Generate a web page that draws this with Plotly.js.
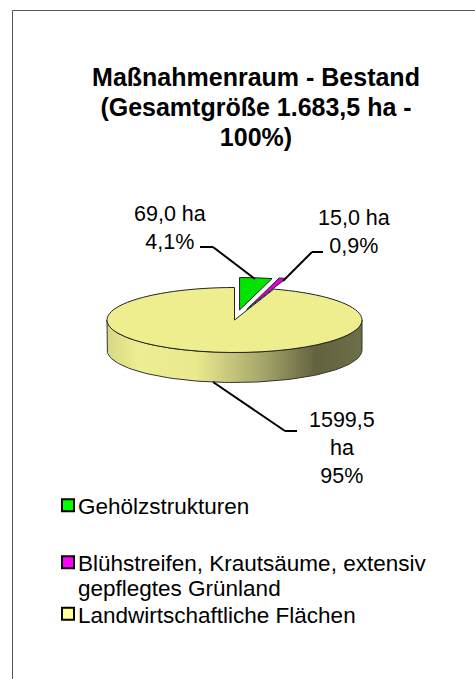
<!DOCTYPE html>
<html>
<head>
<meta charset="utf-8">
<script src="https://cdn.plot.ly/plotly-3.0.1.min.js"></script>
<style>html,body{margin:0;padding:0;background:#fff;}#chart{width:475px;height:679px;}</style>
</head>
<body>
<div id="chart"></div>
<script>
// ---- data ----
var categories = ["Gehölzstrukturen", "Blühstreifen, Krautsäume, extensiv<br>gepflegtes Grünland", "Landwirtschaftliche Flächen"];
var hectares = [69.0, 15.0, 1599.5];
var percents = [4.1, 0.9, 95];
var sliceColors = ["#00E400", "#DD00DD", "#EEEE8E"];
var legendColors = ["#00FF00", "#FF00FF", "#FFFF99"];
var titleText = "<b>Maßnahmenraum - Bestand<br>(Gesamtgröße 1.683,5 ha -<br>100%)</b>";

// ---- geometry (pixels) ----
var W = 475, H = 679;
var cx = 234.5, cy = 320, rx = 127.5, ry = 32.5, depth = 30;
var pulls = [0.31, 0.34, 0];
var maxPull = 0.34;
var k = ry / rx;
function px(x) { return x / W; }
function py(y) { return 1 - y / H; }
var FONT = "Liberation Sans, Arial, Helvetica, sans-serif";

function fmt(v) { return v.toFixed(1).replace('.', ','); }
function pct(v) { return (Math.round(v) === v ? String(v) : fmt(v)) + '%'; }

// side of the 3D pie (extrusion)
var sx = [], sy = [];
var N = 80, i, t;
sx.push(cx - rx); sy.push(cy);
for (i = 0; i <= N; i++) { t = Math.PI * i / N; sx.push(cx - rx * Math.cos(t)); sy.push(cy + depth + ry * Math.sin(t)); }
for (i = N; i >= 0; i--) { t = Math.PI * i / N; sx.push(cx - rx * Math.cos(t)); sy.push(cy + ry * Math.sin(t)); }

var half = rx * (1 + maxPull);
var legendLabels = categories.slice();
legendLabels[0] = categories[0] + '<br> ';
var pieTrace = {
  type: 'pie',
  values: hectares,
  labels: legendLabels,
  sort: false,
  direction: 'clockwise',
  rotation: 0,
  pull: pulls,
  marker: { colors: sliceColors, line: { color: '#222', width: 1 } },
  textinfo: 'none',
  hoverinfo: 'skip',
  domain: { x: [px(cx - half), px(cx + half)], y: [py(cy + half), py(cy - half)] },
  showlegend: true
};
var sideTrace = {
  type: 'scatter', mode: 'lines', x: sx, y: sy, fill: 'toself',
  fillgradient: { type: 'horizontal', colorscale: [[0, '#D8D884'], [0.12, '#EDED91'], [0.35, '#E9E98D'], [0.62, '#A3A36A'], [0.82, '#62623F'], [1, '#6E6E48']] },
  line: { color: '#333', width: 1 }, hoverinfo: 'skip', showlegend: false
};

// labels
var labelPos = [[170, 228], [354, 232], [342, 448]];
var labelText = [
  fmt(hectares[0]) + ' ha<br>' + pct(percents[0]),
  fmt(hectares[1]) + ' ha<br>' + pct(percents[1]),
  fmt(hectares[2]) + '<br>ha<br>' + pct(percents[2])
];
var annotations = labelText.map(function (s, j) {
  return { text: s, x: px(labelPos[j][0]), y: py(labelPos[j][1]), xref: 'paper', yref: 'paper',
    xanchor: 'center', yanchor: 'middle',
    showarrow: false, align: 'center', font: { family: FONT, size: 21.5, color: '#000' } };
});
var leaders = [
  [[200, 247], [213, 247], [255, 279]],
  [[323, 252], [312, 252], [283, 281]],
  [[297, 431], [285, 431], [213, 382]]
];
var shapes = [];
leaders.forEach(function (L) {
  for (var m = 0; m < L.length - 1; m++) {
    shapes.push({ type: 'line', xref: 'paper', yref: 'paper', x0: px(L[m][0]), y0: py(L[m][1]), x1: px(L[m + 1][0]), y1: py(L[m + 1][1]), line: { color: '#000', width: 2 } });
  }
});
shapes.push({ type: 'rect', xref: 'paper', yref: 'paper', x0: px(12.5), y0: -0.1, x1: 1.1, y1: py(10.5), line: { color: '#555', width: 1 }, fillcolor: 'rgba(0,0,0,0)', layer: 'below' });

var layout = {
  width: W, height: H,
  margin: { l: 0, r: 0, t: 0, b: 0 },
  paper_bgcolor: '#fff', plot_bgcolor: 'rgba(0,0,0,0)',
  font: { family: FONT, color: '#000' },
  title: { text: titleText, x: px(256), xanchor: 'center', y: py(86), yanchor: 'top', yref: 'container', font: { family: FONT, size: 25, color: '#000' } },
  xaxis: { range: [0, W], visible: false, fixedrange: true, domain: [0, 1] },
  yaxis: { range: [H, 0], visible: false, fixedrange: true, domain: [0, 1] },
  showlegend: true,
  legend: { x: px(48), y: py(484), xanchor: 'left', yanchor: 'top', valign: 'top', font: { family: FONT, size: 22.5, color: '#000' }, bgcolor: 'rgba(0,0,0,0)', itemclick: false, itemdoubleclick: false },
  annotations: annotations,
  shapes: shapes
};

// legend entry offsets (pixels, relative to first entry)
var legendOffsets = [0, 57, 94];

Plotly.newPlot('chart', [sideTrace, pieTrace], layout, { staticPlot: true }).then(function (gd) {
  // tilt the pie into an ellipse
  gd.querySelectorAll('.pielayer .trace').forEach(function (g) {
    var prev = g.getAttribute('transform') || '';
    g.setAttribute('transform', 'translate(0,' + (cy * (1 - k)) + ') scale(1,' + k + ') ' + prev);
    g.querySelectorAll('path').forEach(function (p) { p.setAttribute('vector-effect', 'non-scaling-stroke'); });
  });
  // title line spacing like the reference (scale Plotly's em offsets)
  gd.querySelectorAll('.g-gtitle text tspan.line').forEach(function (ts) {
    var dy = ts.getAttribute('dy');
    if (dy && /em$/.test(dy)) {
      var v = parseFloat(dy);
      if (v > 0) ts.setAttribute('dy', (v * 1.19 / 1.3) + 'em');
    }
  });
  // tighten legend spacing like the reference
  var items = gd.querySelectorAll('.legend .traces');
  var y0 = null;
  items.forEach(function (it, j) {
    var tr = it.getAttribute('transform') || '';
    var m = /translate\(\s*([-\d.e]+)[ ,]+([-\d.e]+)\s*\)/.exec(tr);
    if (!m) return;
    var x = parseFloat(m[1]), y = parseFloat(m[2]);
    if (y0 === null) y0 = y;
    if (j < legendOffsets.length) it.setAttribute('transform', 'translate(' + x + ',' + (y0 + legendOffsets[j]) + ')');
    it.querySelectorAll('.legendpoints path').forEach(function (p) {
      if (j < legendColors.length) p.style.fill = legendColors[j];
      p.style.stroke = '#000';
      p.style.strokeWidth = '2px';
    });
    var txt = it.querySelector('text.legendtext');
    if (txt) {
      var tx = parseFloat(txt.getAttribute('x') || '0') - 10;
      txt.setAttribute('x', tx);
      txt.querySelectorAll('tspan.line').forEach(function (ts, q) {
        if (ts.getAttribute('x') !== null) ts.setAttribute('x', tx);
        if (q > 0) ts.setAttribute('dy', '1.1em');
      });
    }
  });
});
</script>
</body>
</html>
